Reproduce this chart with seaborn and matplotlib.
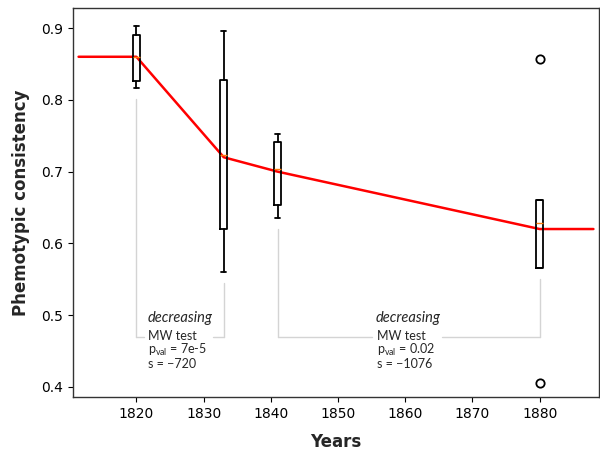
import matplotlib
matplotlib.use("Agg")
import matplotlib.pyplot as plt
import seaborn as sns
import pandas as pd

# box statistics per sampled year
years = [1820, 1833, 1841, 1880]
whisker_low = [0.816, 0.560, 0.635, 0.566]
q1 = [0.826, 0.620, 0.653, 0.566]
medians = [0.859, 0.723, 0.704, 0.628]
q3 = [0.891, 0.827, 0.741, 0.660]
whisker_high = [0.903, 0.896, 0.752, 0.660]
outliers = [[], [], [], [0.857, 0.406]]

# fitted trend (red line)
trend_years = [1811.4, 1820, 1833, 1841, 1880, 1888]
trend_values = [0.86, 0.86, 0.72, 0.70, 0.62, 0.62]

# Mann-Whitney tests between year pairs
test_from = [1820, 1841]
test_to = [1833, 1880]
test_trend = ["decreasing", "decreasing"]
test_pvals = ["7e-5", "0.02"]
test_stats = [-720, -1076]

sns.set_style("ticks")
plt.rcParams["font.family"] = ["DejaVu Sans"]

fig = plt.figure(figsize=(6, 4.55), dpi=100)
ax = fig.add_axes([0.122, 0.1275, 0.876, 0.855])

stats = []
for i in range(len(years)):
    stats.append({"med": medians[i], "q1": q1[i], "q3": q3[i],
                  "whislo": whisker_low[i], "whishi": whisker_high[i],
                  "fliers": outliers[i]})

ax.bxp(stats, positions=years, widths=1.0, capwidths=0.7, manage_ticks=False,
       boxprops=dict(color="black", lw=1.3),
       whiskerprops=dict(color="black", lw=1.3),
       capprops=dict(color="black", lw=1.3),
       medianprops=dict(color="#ff7f0e", lw=1.0),
       flierprops=dict(marker="o", mfc="none", mec="black", ms=6, mew=1.3),
       zorder=3)

trend = pd.DataFrame({"year": trend_years, "value": trend_values})
sns.lineplot(data=trend, x="year", y="value", color="red", lw=1.8, ax=ax, zorder=2)

lowest = [q1[i] if outliers[i] else whisker_low[i] for i in range(len(years))]
bar_y = 0.47
gray = "#d4d4d4"
fs = 9
txt = dict(fontsize=fs, ha="left", va="center", family=["Lato", "DejaVu Sans"],
           math_fontfamily="dejavusans")
for a, b, trend_txt, p, s in zip(test_from, test_to, test_trend, test_pvals, test_stats):
    ia, ib = years.index(a), years.index(b)
    mid = (a + b) / 2
    left = mid - 4.7
    ax.plot([a, a], [lowest[ia] - 0.015, bar_y], color=gray, lw=1, zorder=1)
    ax.plot([b, b], [lowest[ib] - 0.015, bar_y], color=gray, lw=1, zorder=1)
    ax.plot([a, left - 0.7], [bar_y, bar_y], color=gray, lw=1, zorder=1)
    ax.plot([left + 9.6, b], [bar_y, bar_y], color=gray, lw=1, zorder=1)
    ax.text(mid, 0.496, trend_txt, style="italic", fontsize=10.5, ha="center", va="center",
            family=["Lato", "DejaVu Sans"])
    ax.text(left, 0.4715, "MW test", **txt)
    ax.text(left, 0.4515, "p$_{\\mathregular{val}}$ = " + p, **txt)
    ax.text(left, 0.4325, "s = \u2212" + str(abs(s)), **txt)

ax.set_xlim(1810.6, 1888.8)
ax.set_ylim(0.386, 0.928)
ax.set_xticks([1820, 1830, 1840, 1850, 1860, 1870, 1880])
ax.set_yticks([0.4, 0.5, 0.6, 0.7, 0.8, 0.9])
ax.tick_params(length=3.5, width=0.8, labelsize=10, colors="black")
for sp in ax.spines.values():
    sp.set_color("#333333")
    sp.set_linewidth(1.0)

ax.set_xlabel("Years", fontsize=12, fontweight="bold", labelpad=9)
ax.set_ylabel("Phemotypic consistency", fontsize=12, fontweight="bold", labelpad=8)

plt.savefig("out.png", dpi=100)
plt.close()
